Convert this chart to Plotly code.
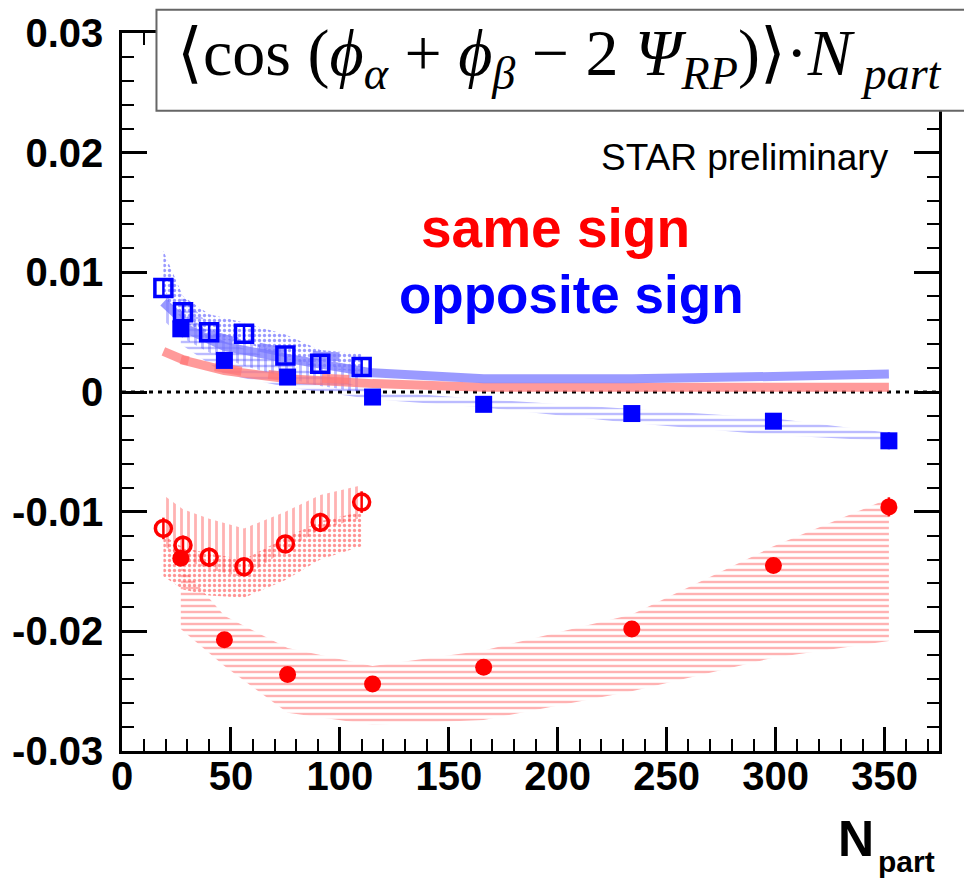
import plotly.graph_objects as go

# ---------------- data ----------------
# Au+Au (filled markers)
npart_au = [27, 47, 76, 115, 166, 234, 299, 352]
same_au = [-0.0139, -0.0207, -0.0236, -0.0244, -0.0230, -0.0198, -0.0145, -0.0096]
same_au_err = [0.0006, 0.0004, 0.0004, 0.0004, 0.0004, 0.0004, 0.0005, 0.0008]
opp_au = [0.00528, 0.00264, 0.00125, -0.00042, -0.00103, -0.0018, -0.00244, -0.00408]
opp_au_err = [0.0006, 0.0004, 0.0004, 0.0004, 0.0004, 0.0004, 0.0005, 0.0007]

# Cu+Cu (open markers)
npart_cu = [19, 28, 40, 56, 75, 91, 110]
same_cu = [-0.0114, -0.0128, -0.0138, -0.0146, -0.0127, -0.0109, -0.0092]
same_cu_err = [0.0009, 0.0008, 0.0008, 0.0007, 0.0007, 0.0008, 0.0009]
opp_cu = [0.0087, 0.00667, 0.0050, 0.00487, 0.00306, 0.00237, 0.00208]
opp_cu_err = [0.0008, 0.0007, 0.0006, 0.0006, 0.0006, 0.0006, 0.0007]

# systematic bands
same_au_sys_hi = [-0.0145, -0.0187, -0.0214, -0.0229, -0.0216, -0.0186, -0.0129, -0.0089]
same_au_sys_lo = [-0.0198, -0.0229, -0.0268, -0.0278, -0.0274, -0.0250, -0.0222, -0.0208]
opp_au_sys_hi = [0.0082, 0.0042, 0.0023, 0.0001, -0.0006, -0.0014, -0.0022, -0.0034]
opp_au_sys_lo = [0.0040, 0.0015, 0.0004, -0.0006, -0.0013, -0.0026, -0.0036, -0.0041]

same_cu_sysA_hi = [-0.0086, -0.0098, -0.0106, -0.0114, -0.0100, -0.0086, -0.0078]
same_cu_sysA_lo = [-0.0128, -0.0140, -0.0148, -0.0155, -0.0132, -0.0115, -0.0105]
same_cu_sysB_hi = [-0.0120, -0.0130, -0.0135, -0.0140, -0.0122, -0.0108, -0.0100]
same_cu_sysB_lo = [-0.0154, -0.0165, -0.0170, -0.0172, -0.0157, -0.0140, -0.0129]
opp_cu_sysA_hi = [0.0086, 0.0066, 0.0050, 0.0045, 0.0030, 0.0023, 0.0020]
opp_cu_sysA_lo = [0.0060, 0.0045, 0.0033, 0.0022, 0.0012, 0.0005, 0.0000]
opp_cu_sysB_hi = [0.0118, 0.0080, 0.0065, 0.0058, 0.0048, 0.0035, 0.0032]
opp_cu_sysB_lo = [0.0080, 0.0060, 0.0045, 0.0042, 0.0028, 0.0020, 0.0017]

# pale thick curves
pale_opp_au = [0.0055, 0.0038, 0.0028, 0.0016, 0.0011, 0.0011, 0.0013, 0.0015]
pale_same_au = [0.0027, 0.0018, 0.0011, 0.0007, 0.0004, 0.0004, 0.0004, 0.0004]
pale_opp_cu = [0.0075, 0.0060, 0.0048, 0.0040, 0.0033, 0.0030, 0.0029]
pale_same_cu = [0.0034, 0.0027, 0.0022, 0.0017, 0.0013, 0.0011, 0.0010]

y_tickvals = [-0.03, -0.02, -0.01, 0, 0.01, 0.02, 0.03]
y_ticktext = ["-0.03", "-0.02", "-0.01", "0", "0.01", "0.02", "0.03"]
x_tickvals = [0, 50, 100, 150, 200, 250, 300, 350]
x_ticktext = ["0", "50", "100", "150", "200", "250", "300", "350"]

RED = "#ff0000"
BLUE = "#0000ff"
PALE_RED = "rgba(255,120,120,0.75)"
PALE_BLUE = "rgba(120,120,255,0.75)"

# ---------------- layout geometry (pixels) ----------------
W, H = 964, 880
L, R_, T, B = 121.5, 939.0, 33.3, 751.5


def px2x(px):
    return (px - L) / (R_ - L)


def py2y(py):
    return (B - py) / (B - T)


fig = go.Figure()


def band(x, hi, lo, shape, color, size=7, solidity=0.4):
    fig.add_trace(go.Scatter(
        x=list(x) + list(x)[::-1], y=list(hi) + list(lo)[::-1],
        fill="toself", mode="lines", line=dict(width=0, color=color),
        fillcolor="rgba(0,0,0,0)",
        fillpattern=dict(shape=shape, fgcolor=color, bgcolor="rgba(0,0,0,0)",
                         size=size, solidity=solidity),
        hoverinfo="skip", showlegend=False))


band(npart_cu, same_cu_sysA_hi, same_cu_sysA_lo, "|", "rgba(255,50,50,0.75)")
band(npart_cu, same_cu_sysB_hi, same_cu_sysB_lo, ".", "rgba(255,20,20,0.9)", size=5, solidity=0.35)
band(npart_au, same_au_sys_hi, same_au_sys_lo, "-", "rgba(255,50,50,0.75)", size=6)
band(npart_cu, opp_cu_sysA_hi, opp_cu_sysA_lo, "|", "rgba(60,60,255,0.7)")
band(npart_cu, opp_cu_sysB_hi, opp_cu_sysB_lo, ".", "rgba(30,30,255,0.9)", size=5, solidity=0.35)
band(npart_au, opp_au_sys_hi, opp_au_sys_lo, "-", "rgba(60,60,255,0.7)", size=6)

# pale thick curves
fig.add_trace(go.Scatter(x=npart_au, y=pale_same_au, mode="lines",
                         line=dict(color=PALE_RED, width=9), showlegend=False))
fig.add_trace(go.Scatter(x=npart_cu, y=pale_same_cu, mode="lines",
                         line=dict(color=PALE_RED, width=9, dash="dash"), showlegend=False))
fig.add_trace(go.Scatter(x=npart_au, y=pale_opp_au, mode="lines",
                         line=dict(color=PALE_BLUE, width=9), showlegend=False))
fig.add_trace(go.Scatter(x=npart_cu, y=pale_opp_cu, mode="lines",
                         line=dict(color=PALE_BLUE, width=9, dash="dash"), showlegend=False))

# data points
fig.add_trace(go.Scatter(
    x=npart_cu, y=same_cu, mode="markers",
    error_y=dict(type="data", array=same_cu_err, color=RED, thickness=2.5, width=0),
    marker=dict(symbol="circle-open", size=16, color=RED, line=dict(width=3.5, color=RED)),
    showlegend=False))
fig.add_trace(go.Scatter(
    x=npart_au, y=same_au, mode="markers",
    error_y=dict(type="data", array=same_au_err, color=RED, thickness=2.5, width=0),
    marker=dict(symbol="circle", size=17, color=RED),
    showlegend=False))
fig.add_trace(go.Scatter(
    x=npart_cu, y=opp_cu, mode="markers",
    error_y=dict(type="data", array=opp_cu_err, color=BLUE, thickness=2.5, width=0),
    marker=dict(symbol="square-open", size=17, color=BLUE, line=dict(width=3.5, color=BLUE)),
    showlegend=False))
fig.add_trace(go.Scatter(
    x=npart_au, y=opp_au, mode="markers",
    error_y=dict(type="data", array=opp_au_err, color=BLUE, thickness=2.5, width=0),
    marker=dict(symbol="square", size=17, color=BLUE),
    showlegend=False))

tickfont = dict(family="Liberation Sans, Arial, sans-serif", size=40, color="black", weight="bold")

fig.update_layout(
    width=W, height=H, autosize=False,
    margin=dict(l=L, r=W - R_, t=T, b=H - B, pad=0),
    paper_bgcolor="white", plot_bgcolor="white",
    xaxis=dict(range=[0, 375], tickvals=x_tickvals, ticktext=x_ticktext,
               ticks="inside", ticklen=24, tickwidth=2.5, tickcolor="black",
               showline=True, linewidth=2.5, linecolor="black", mirror="ticks",
               showgrid=False, zeroline=False, tickfont=tickfont, ticklabelstandoff=-12,
               minor=dict(dtick=10, tick0=0, ticks="inside", ticklen=12, tickwidth=2, tickcolor="black")),
    yaxis=dict(range=[-0.03, 0.03], tickvals=y_tickvals, ticktext=y_ticktext,
               ticks="inside", ticklen=25, tickwidth=2.5, tickcolor="black",
               showline=True, linewidth=2.5, linecolor="black", mirror="ticks",
               showgrid=False, zeroline=False, tickfont=tickfont, ticklabelstandoff=8,
               minor=dict(dtick=0.002, tick0=0, ticks="inside", ticklen=12, tickwidth=2, tickcolor="black")),
    shapes=[
        dict(type="line", xref="x", yref="y", x0=0, x1=375, y0=0, y1=0,
             line=dict(color="black", width=3, dash="4px,5px"), layer="below"),
        dict(type="rect", xref="paper", yref="paper",
             x0=px2x(156), x1=px2x(990), y0=py2y(111), y1=py2y(10),
             line=dict(color="#666666", width=2), fillcolor="white", layer="above"),
    ],
)

serif = "Liberation Serif, Times New Roman, serif"
title_text = ("⟨cos (<i>ϕ</i><sub><i>α</i></sub> + <i>ϕ</i><sub><i>β</i></sub> − 2 <i>Ψ</i>"
              "<sub><i>RP</i></sub>)⟩·<i>N</i><sub> <i>part</i></sub>")

ann = [
    dict(text=title_text, x=px2x(559), y=py2y(58), xanchor="center", yanchor="middle",
         font=dict(family=serif, size=66, color="black")),
    dict(text="STAR preliminary", x=px2x(891), y=py2y(158), xanchor="right", yanchor="middle",
         font=dict(family="Liberation Sans, Arial, sans-serif", size=37, color="black")),
    dict(text="same sign", x=px2x(555), y=py2y(228), xanchor="center", yanchor="middle",
         font=dict(family="Liberation Sans, Arial, sans-serif", size=55, color=RED, weight="bold")),
    dict(text="opposite sign", x=px2x(571), y=py2y(295), xanchor="center", yanchor="middle",
         font=dict(family="Liberation Sans, Arial, sans-serif", size=53, color=BLUE, weight="bold")),
    dict(text="N", x=px2x(876), y=py2y(840), xanchor="right", yanchor="middle",
         font=dict(family="Liberation Sans, Arial, sans-serif", size=50, color="black", weight="bold")),
    dict(text="part", x=px2x(876), y=py2y(862), xanchor="left", yanchor="middle",
         font=dict(family="Liberation Sans, Arial, sans-serif", size=30, color="black", weight="bold")),
]
for a in ann:
    a.update(xref="paper", yref="paper", showarrow=False)
fig.update_layout(annotations=ann)

fig.write_html("out.html", config={"displayModeBar": False},
               post_script="document.body.style.margin='0';")
